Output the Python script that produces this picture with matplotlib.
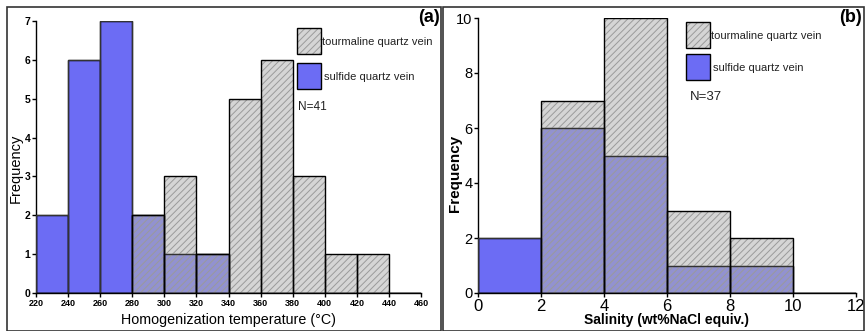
import matplotlib
matplotlib.use("Agg")
import matplotlib.pyplot as plt
from matplotlib.patches import Rectangle
import numpy as np

plt.rcParams['font.family'] = ['Liberation Sans', 'DejaVu Sans']
plt.rcParams['hatch.linewidth'] = 0.7

# (a) homogenization temperature, 20 degC bins
temp_edges = np.arange(220, 460, 20)
temp_sulfide = [2, 6, 7, 2, 1, 1, 0, 0, 0, 0, 0, 0]
temp_tourmaline = [0, 0, 0, 2, 3, 1, 5, 6, 3, 1, 1, 0]

# (b) salinity, 2 wt% bins
sal_edges = np.arange(0, 12, 2)
sal_sulfide = [2, 6, 5, 1, 1, 0]
sal_tourmaline = [0, 7, 10, 3, 2, 0]

BLUE = '#6c6cf4'
GRAY = (0.70, 0.70, 0.70, 0.55)
HATCH_COL = '#9a9a9a'
HATCH = '/////'

W, H = 867, 331
fig = plt.figure(figsize=(W / 100, H / 100), dpi=100)


def fx(px):
    return px / W


def fy(py):
    return 1 - py / H


def draw_hist(ax, edges, width, sulf, tour):
    sulf = np.array(sulf)
    tour = np.array(tour)
    ax.bar(edges, sulf, width=width, align='edge', color=BLUE, edgecolor='black', linewidth=1.0, zorder=1)
    ax.bar(edges, tour, width=width, align='edge', color=GRAY, edgecolor=HATCH_COL, linewidth=0,
           hatch=HATCH, zorder=2)
    ax.bar(edges, sulf, width=width, align='edge', fill=False, edgecolor='#333333', linewidth=0.9, zorder=3)
    ax.bar(edges, tour, width=width, align='edge', fill=False, edgecolor='black', linewidth=1.0, zorder=4)
    for s in ['top', 'right']:
        ax.spines[s].set_visible(False)
    for s in ['left', 'bottom']:
        ax.spines[s].set_linewidth(1.0)
    ax.tick_params(direction='out', length=3, width=1.0, pad=1)


def legend_box(x, y0, y1, text_sz):
    # gray hatched key
    fig.patches.append(Rectangle((fx(x), fy(y0 + 26)), fx(24), 26 / H, transform=fig.transFigure,
                                 facecolor=GRAY, edgecolor=HATCH_COL, linewidth=0, hatch=HATCH))
    fig.patches.append(Rectangle((fx(x), fy(y0 + 26)), fx(24), 26 / H, transform=fig.transFigure,
                                 fill=False, edgecolor='black', linewidth=1.0))
    fig.patches.append(Rectangle((fx(x), fy(y1 + 26)), fx(24), 26 / H, transform=fig.transFigure,
                                 facecolor=BLUE, edgecolor='black', linewidth=1.0))
    fig.text(fx(x + 25), fy(y0 + 14), 'tourmaline quartz vein', fontsize=text_sz, va='center', color='#222222')
    fig.text(fx(x + 27), fy(y1 + 14), 'sulfide quartz vein', fontsize=text_sz, va='center', color='#222222')


# panel frames
fig.patches.append(Rectangle((fx(7), 0), fx(434), fy(7), transform=fig.transFigure,
                             fill=False, edgecolor='#333333', linewidth=1.2))
fig.patches.append(Rectangle((fx(443), 0), fx(421), fy(7), transform=fig.transFigure,
                             fill=False, edgecolor='#333333', linewidth=1.2))

# (a)
ax1 = fig.add_axes([fx(36), fy(293), fx(421 - 36), (293 - 21) / H])
draw_hist(ax1, temp_edges, 20, temp_sulfide, temp_tourmaline)
ax1.set_xlim(220, 460)
ax1.set_ylim(0, 7)
ax1.set_xticks(np.arange(220, 461, 20))
ax1.set_yticks(range(0, 8))
for lbl in ax1.get_xticklabels():
    lbl.set_fontsize(6.5)
    lbl.set_fontweight('bold')
for lbl in ax1.get_yticklabels():
    lbl.set_fontsize(7.5)
    lbl.set_fontweight('bold')
ax1.set_xlabel('Homogenization temperature (°C)', fontsize=10.3)
ax1.xaxis.set_label_coords(0.5, -0.074)
ax1.set_ylabel('Frequency', fontsize=10.5)
ax1.yaxis.set_label_coords(-0.034, 0.46)
legend_box(297, 28, 63, 8)
fig.text(fx(298), fy(107), 'N=41', fontsize=8.5, va='center', color='#222222')
fig.text(fx(440), fy(17), '(a)', fontsize=13, fontweight='bold', ha='right', va='center')

# (b)
ax2 = fig.add_axes([fx(478), fy(293), fx(856 - 478), (293 - 18) / H])
draw_hist(ax2, sal_edges, 2, sal_sulfide, sal_tourmaline)
ax2.set_xlim(0, 12)
ax2.set_ylim(0, 10)
ax2.set_xticks(range(0, 13, 2))
ax2.set_yticks(range(0, 11, 2))
ax2.tick_params(axis='x', labelsize=12)
ax2.tick_params(axis='y', labelsize=10.5)
ax2.set_xlabel('Salinity (wt%NaCl equiv.)', fontsize=10, fontweight='bold')
ax2.xaxis.set_label_coords(0.5, -0.073)
ax2.set_ylabel('Frequency', fontsize=11, fontweight='bold')
ax2.yaxis.set_label_coords(-0.042, 0.436)
legend_box(686, 22, 54, 8)
fig.text(fx(690), fy(97), 'N=37', fontsize=9.5, va='center', color='#222222')
fig.text(fx(862), fy(17), '(b)', fontsize=13, fontweight='bold', ha='right', va='center')

fig.savefig('out.png', dpi=100)
